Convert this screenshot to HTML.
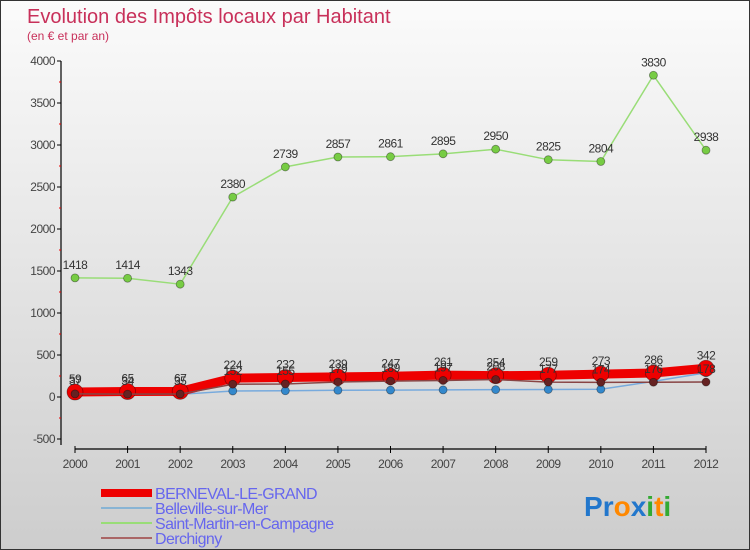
<!DOCTYPE html>
<html><head><meta charset="utf-8"><style>
html,body{margin:0;padding:0}
body{width:750px;height:550px;overflow:hidden;font-family:"Liberation Sans",sans-serif}
#wrap{position:relative;width:748px;height:548px;border:1px solid #333;background:linear-gradient(#fbfbfb,#cdcdcd)}
</style></head><body>
<div id="wrap">
<svg id="chart" width="748" height="548" style="position:absolute;left:0;top:0">
<text x="26" y="22" font-size="20" fill="#c8305a">Evolution des Impôts locaux par Habitant</text>
<text x="26" y="39" font-size="12" fill="#c8305a">(en € et par an)</text>
</svg>
</div>
<script>
const years=["2000","2001","2002","2003","2004","2005","2006","2007","2008","2009","2010","2011","2012"];
const yTicks=[-500,0,500,1000,1500,2000,2500,3000,3500,4000];
const berneval=[59,65,67,224,232,239,247,261,254,259,273,286,342];
const belleville=[24,33,32,72,74,80,82,85,88,90,92,186,289];
const saintMartin=[1418,1414,1343,2380,2739,2857,2861,2895,2950,2825,2804,3830,2938];
const derchigny=[37,34,35,152,155,179,189,197,208,177,174,176,178];
const svg=document.getElementById('chart');
const NS='http://www.w3.org/2000/svg';
function X(i){return 74+i*(705-74)/(years.length-1);}
function Y(v){return 396-v*0.084;}
function mk(tag,attrs,parent){const e=document.createElementNS(NS,tag);for(const k in attrs)e.setAttribute(k,attrs[k]);(parent||svg).appendChild(e);return e;}
// y axis
let ya=mk('line',{x1:60,y1:60,x2:60,y2:444,stroke:'#000','stroke-width':1.2});


yTicks.forEach(v=>{
 mk('line',{x1:56,x2:60,y1:Y(v),y2:Y(v),stroke:'#000'});
 const t=mk('text',{x:54,y:Y(v)+4,'font-size':12,fill:'#444','text-anchor':'end','letter-spacing':'-0.5'});
 t.textContent=v;
 
 
 if(v<4000) mk('line',{x1:58,x2:60,y1:Y(v+250),y2:Y(v+250),stroke:'#e00'});
});
// x axis
let xa=mk('line',{x1:74,y1:448,x2:705,y2:448,stroke:'#000','stroke-width':1.2});


years.forEach((y,i)=>{
 mk('line',{x1:X(i),x2:X(i),y1:445,y2:452,stroke:'#000'});
 const t=mk('text',{x:X(i),y:467,'font-size':12,fill:'#444','text-anchor':'middle','letter-spacing':'-0.5'});
 t.textContent=y;
 
 
});
function series(data,name,color,w,r,pfill,labels){
 const g=mk('g',{});
 
 
 mk('polyline',{points:data.map((v,i)=>X(i)+','+Y(v)).join(' '),fill:'none',stroke:color,'stroke-width':w,'stroke-linejoin':'round'},g);
 data.forEach((v,i)=>{
  const c=mk('circle',{cx:X(i),cy:Y(v),r:r,fill:pfill,stroke:'rgba(0,0,0,0.4)','stroke-width':0.8},g);
  
  
  if(labels){
   const t=mk('text',{x:X(i),y:Y(v)-9,'font-size':12,fill:'#333','text-anchor':'middle','letter-spacing':'-0.5'},g);
   t.textContent=v;
   
   
  }
 });
}
series(saintMartin,'saint-martin','#99dd77',1.5,4,'#77cc44',true);
series(belleville,'belleville','#77aadd',1.5,4,'#3388cc',false);
series(berneval,'berneval','#ee0000',9,8,'#ee0000',true);
series(derchigny,'derchigny','#884444',1.5,4,'#662222',true);
// legend
const leg=[['BERNEVAL-LE-GRAND','#ee0000',8],['Belleville-sur-Mer','#88b4d4',2],['Saint-Martin-en-Campagne','#99dd77',2],['Derchigny','#aa6666',2]];
leg.forEach((l,i)=>{
 const y=492+i*15;
 const g=mk('g',{});
 
 
 mk('line',{x1:100,x2:151,y1:y,y2:y,stroke:l[1],'stroke-width':l[2]},g);
 const t=mk('text',{x:154,y:y+6,'font-size':16,fill:'#6666ee','letter-spacing':'-0.6'},g);
 t.textContent=l[0];
});
// logo
const lg=mk('text',{x:583,y:515,'font-size':28,'font-weight':'bold'});


[['P','#2277cc'],['r','#2277cc'],['o','#ff8800'],['x','#2277cc'],['i','#33aa33'],['t','#ff8800'],['i','#33aa33']].forEach(p=>{mk('tspan',{fill:p[1]},lg).textContent=p[0];});
</script>
</body></html>
